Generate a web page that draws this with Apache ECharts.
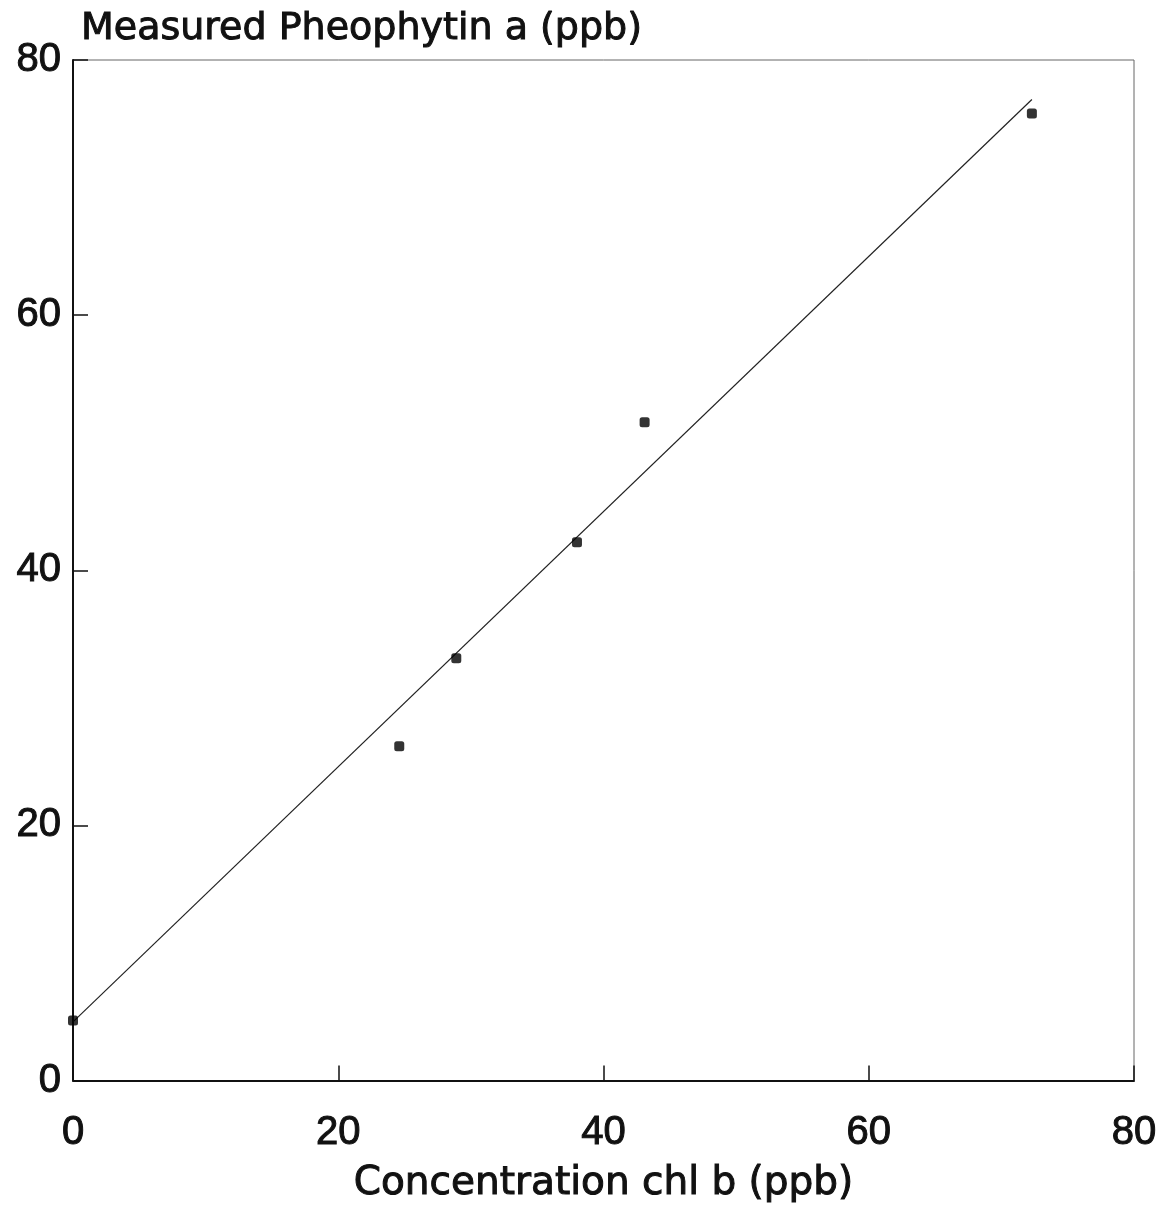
<!DOCTYPE html>
<html>
<head>
<meta charset="utf-8">
<script src="https://cdn.jsdelivr.net/npm/echarts@6/dist/echarts.min.js"></script>
<style>
  html, body { margin: 0; padding: 0; background: #fff; }
  #main { width: 1170px; height: 1209px; }
</style>
</head>
<body>
<div id="main"></div>
<script>
// measured points: chl b concentration vs measured pheophytin a
var chlB = [0, 24.6, 28.9, 38.0, 43.1, 72.3];
var pheoA = [4.7, 26.2, 33.1, 42.2, 51.6, 75.8];
// fitted line end points
var fitX = [0, 72.3];
var fitY = [4.6, 76.9];
var xTicks = [0, 20, 40, 60, 80];
var yTicks = [0, 20, 40, 60, 80];

var points = chlB.map(function (x, i) { return [x, pheoA[i]]; });
var fit = fitX.map(function (x, i) { return [x, fitY[i]]; });

var ink = "#111";
var myChart = echarts.init(document.getElementById("main"));

var option = {
  backgroundColor: "#fff",
  animation: false,
  title: {
    text: "Measured Pheophytin a (ppb)",
    left: 76,
    top: 5,
    textStyle: {
      fontFamily: "DejaVu Sans",
      fontSize: 38,
      fontWeight: "normal",
      color: ink,
      textBorderColor: ink,
      textBorderWidth: 1
    }
  },
  grid: {
    left: 73,
    right: 36,
    top: 60,
    bottom: 128,
    show: true,
    borderColor: "#666",
    borderWidth: 1
  },
  xAxis: {
    type: "value",
    min: xTicks[0],
    max: xTicks[xTicks.length - 1],
    interval: 20,
    name: "Concentration chl b (ppb)",
    nameLocation: "middle",
    nameGap: 84,
    nameTextStyle: {
      fontFamily: "DejaVu Sans",
      fontSize: 39,
      color: ink,
      textBorderColor: ink,
      textBorderWidth: 1
    },
    axisLine: { lineStyle: { color: ink, width: 2 } },
    axisTick: { inside: true, length: 15, lineStyle: { color: ink, width: 1.5 } },
    axisLabel: {
      margin: 32,
      fontFamily: "Liberation Sans",
      fontSize: 40,
      color: ink,
      textBorderColor: ink,
      textBorderWidth: 1,
      formatter: function (v) { return xTicks.indexOf(v) >= 0 ? String(v) : ""; }
    },
    splitLine: { show: false }
  },
  yAxis: {
    type: "value",
    min: yTicks[0],
    max: yTicks[yTicks.length - 1],
    interval: 20,
    axisLine: { show: true, lineStyle: { color: ink, width: 2 } },
    axisTick: { show: true, inside: true, length: 15, lineStyle: { color: ink, width: 1.5 } },
    axisLabel: {
      margin: 12,
      fontFamily: "Liberation Sans",
      fontSize: 40,
      color: ink,
      textBorderColor: ink,
      textBorderWidth: 1,
      formatter: function (v) { return yTicks.indexOf(v) >= 0 ? String(v) : ""; }
    },
    splitLine: { show: false }
  },
  series: [
    {
      type: "line",
      data: fit,
      symbol: "none",
      lineStyle: { color: "#222", width: 1.2 },
      z: 2
    },
    {
      type: "scatter",
      data: points,
      symbol: "roundRect",
      symbolSize: 10,
      itemStyle: { color: "#000" },
      z: 3
    }
  ]
};

myChart.setOption(option);
</script>
</body>
</html>
